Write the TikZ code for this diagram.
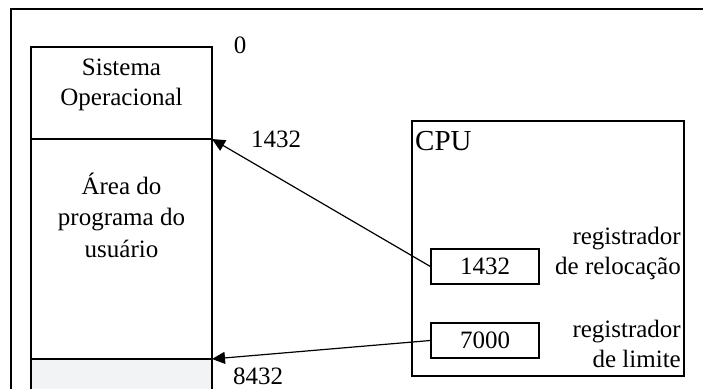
\documentclass[tikz,border=0pt]{standalone}
\usepackage{fontspec}
\setmainfont{Liberation Serif}
\usetikzlibrary{arrows.meta}
\tikzset{
  box/.style={draw=black, line width=1.3pt},
  txt/.style={inner sep=0pt, anchor=base, font=\fontsize{25}{30}\selectfont},
  rtxt/.style={inner sep=0pt, anchor=base east, font=\fontsize{25}{30}\selectfont},
  regbox/.style={draw=black, line width=1.3pt, minimum width=108pt, minimum height=35pt, inner sep=0pt, font=\fontsize{25}{30}\selectfont},
  ptr/.style={line width=1.2pt, -{Triangle[length=13pt,width=12pt]}}
}
\begin{document}
\begin{tikzpicture}[x=1pt,y=-1pt]
\useasboundingbox (0,0) rectangle (703,388);
\clip (0,0) rectangle (703,388);
% outer frame (extends beyond the picture)
\draw[line width=1.5pt] (11,400) -- (11,9) -- (720,9);
% memory
\fill[fill={rgb,255:red,242;green,243;blue,245}] (31,359) rectangle (212,400);
\draw[box] (31,400) -- (31,47) -- (212,47) -- (212,400);
\coordinate (d1l) at (31,139);
\coordinate (d1) at (212,139);
\coordinate (d2l) at (31,359);
\coordinate (d2) at (212,359);
\draw[box] (d1l) -- (d1);
\draw[box] (d2l) -- (d2);
\node[txt] (so1) at (121.5,75) {Sistema};
\node[txt] (so2) at (121.5,105) {Operacional};
\node[txt] (ua1) at (121.5,194) {Área do};
\node[txt] (ua2) at (121.5,225) {programa do};
\node[txt] (ua3) at (121.5,257) {usuário};
\node[txt] (a0) at (240,53) {0};
\node[txt] (a1) at (276,147) {1432};
\node[txt] (a2) at (258,384) {8432};
% CPU
\draw[box] (412,121) rectangle (684,376);
\node[inner sep=0pt, anchor=base west, font=\fontsize{29}{34}\selectfont] (cpu) at (415,150) {CPU};
\node[regbox] (rel) at (485,266.5) {1432};
\node[regbox] (lim) at (485,340.5) {7000};
\node[rtxt] (r1) at (681,244) {registrador};
\node[rtxt] (r2) at (681,274) {de relocação};
\node[rtxt] (r3) at (681,337) {registrador};
\node[rtxt] (r4) at (681,367) {de limite};
\draw[ptr] (rel.west) -- (d1);
\draw[ptr] (lim.west) -- (d2);
\end{tikzpicture}
\end{document}
